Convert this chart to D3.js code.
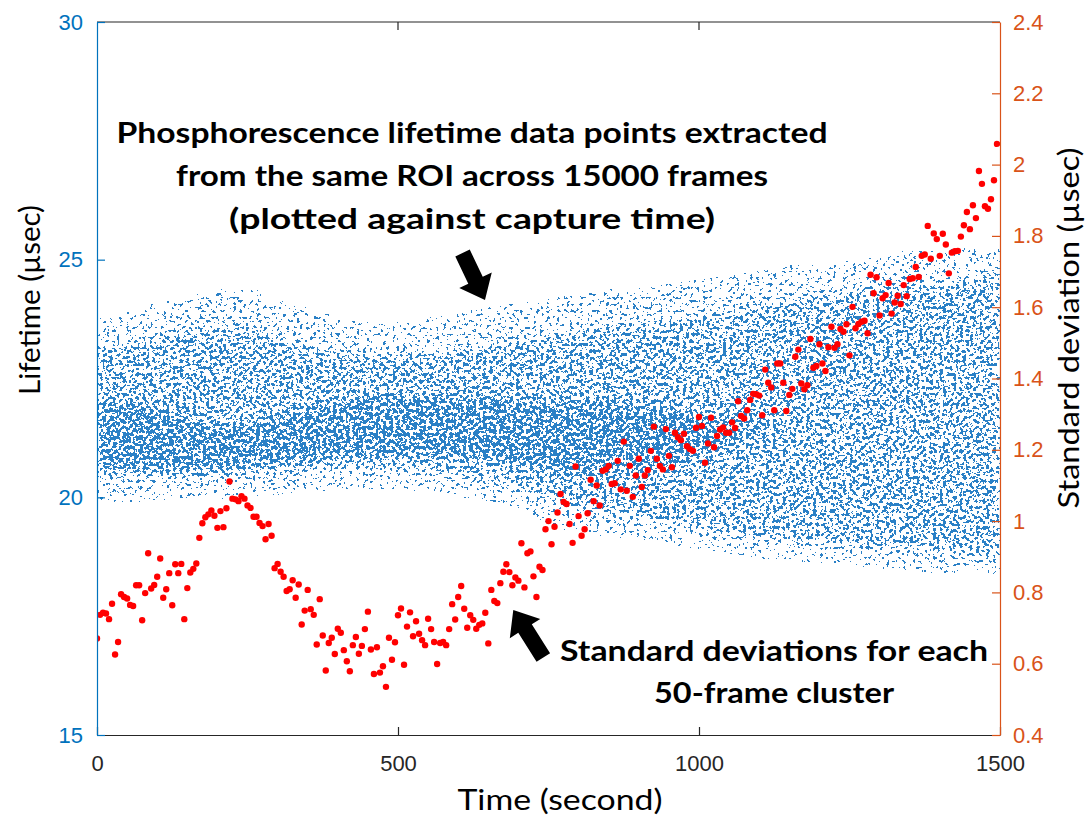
<!DOCTYPE html>
<html><head><meta charset="utf-8">
<script src="https://cdn.jsdelivr.net/npm/d3@7"></script>
<style>body{margin:0;background:#fff}svg{display:block}</style>
</head><body>
<svg id="chart" width="1089" height="819"></svg>
<script>
// ---------- data ----------
const timeTicks = [0, 500, 1000, 1500];
const lifetimeTicks = [15, 20, 25, 30];
const sdTicks = [0.4, 0.6, 0.8, 1.0, 1.2, 1.4, 1.6, 1.8, 2.0, 2.2, 2.4];
const clusterSeconds = 5; // each 50-frame cluster spans 5 s

// standard deviation of each 50-frame cluster (µsec), in cluster order
const sdValues = [
0.671,0.737,0.743,0.741,0.725,0.768,0.626,0.661,0.795,0.787,0.783,0.765,0.762,0.82,0.82,0.722,0.798,0.91,0.811,0.821,
0.844,0.895,0.785,0.809,0.854,0.764,0.879,0.854,0.88,0.725,0.812,0.856,0.866,0.881,0.953,0.994,1.011,1.019,1.030,1.015,
0.981,1.028,0.983,1.036,1.111,1.063,1.061,1.056,1.07,1.063,1.044,1.037,1.012,1.012,0.995,0.986,0.949,0.992,0.959,0.868,
0.88,0.858,0.844,0.804,0.809,0.834,0.785,0.822,0.71,0.749,0.807,0.753,0.737,0.654,0.781,0.679,0.581,0.658,0.673,0.627,
0.698,0.687,0.638,0.607,0.579,0.652,0.675,0.628,0.65,0.697,0.746,0.64,0.571,0.646,0.575,0.593,0.535,0.673,0.611,0.66,
0.736,0.755,0.597,0.704,0.744,0.677,0.719,0.684,0.666,0.652,0.726,0.697,0.661,0.599,0.658,0.661,0.652,0.697,0.767,0.724,
0.787,0.818,0.754,0.701,0.736,0.723,0.698,0.709,0.713,0.743,0.657,0.807,0.776,0.77,0.826,0.858,0.879,0.857,0.82,0.842,
0.833,0.938,0.814,0.91,0.915,0.845,0.787,0.872,0.863,0.977,1.0,0.935,0.984,1.024,1.076,1.054,1.048,0.992,0.939,1.153,
1.014,0.959,0.977,1.022,1.116,1.056,1.1,1.044,1.141,1.145,1.155,1.104,1.106,1.169,1.089,1.223,1.085,1.155,1.068,1.128,
1.175,1.096,1.128,1.143,1.197,1.265,1.175,1.155,1.145,1.258,1.183,1.151,1.248,1.235,1.227,1.245,1.21,1.202,1.197,1.262,
1.292,1.267,1.164,1.218,1.29,1.207,1.239,1.257,1.263,1.248,1.248,1.277,1.261,1.336,1.295,1.288,1.311,1.34,1.357,1.356,
1.352,1.297,1.425,1.388,1.375,1.311,1.442,1.442,1.388,1.309,1.354,1.371,1.461,1.481,1.386,1.37,1.381,1.511,1.43,1.435,
1.496,1.442,1.421,1.488,1.545,1.486,1.496,1.539,1.531,1.552,1.465,1.601,1.541,1.553,1.559,1.562,1.527,1.691,1.639,1.684,
1.577,1.625,1.634,1.668,1.582,1.613,1.632,1.609,1.662,1.631,1.679,1.681,1.713,1.685,1.744,1.748,1.828,1.736,1.807,1.791,
1.744,1.806,1.776,1.695,1.753,1.757,1.758,1.798,1.83,1.867,1.819,1.886,1.85,1.982,1.946,1.883,1.876,1.903,1.956,2.058
];

// lifetime point cloud (15000 frames), summarised as density envelopes (µsec)
const cloudTimes    = [0,50,100,150,200,250,300,350,400,450,500,550,600,650,700,750,800,850,900,950,1000,1050,1100,1150,1200,1250,1300,1350,1400,1450,1500];
const cloudOuterTop = [23.7,23.8,24.0,24.1,24.3,24.3,24.1,23.9,23.7,23.6,23.6,23.7,23.8,23.9,24.0,24.1,24.2,24.3,24.3,24.4,24.5,24.6,24.7,24.8,24.8,24.9,25.0,25.1,25.1,25.2,25.2];
const cloudMidTop   = [23.1,23.2,23.3,23.5,23.6,23.6,23.4,23.2,23.1,23.0,23.0,23.0,23.1,23.2,23.3,23.4,23.5,23.6,23.6,23.7,23.8,23.9,24.0,24.1,24.2,24.3,24.4,24.5,24.5,24.6,24.6];
const cloudCoreTop  = [22.0,22.0,21.9,21.7,21.5,21.5,21.7,21.9,22.0,22.1,22.1,22.1,22.1,22.1,22.0,22.0,22.0,22.0,21.9,21.8,21.7,21.6,21.5,21.4,21.4,21.4,21.4,21.4,21.4,21.4,21.4];
const cloudCoreBot  = [20.6,20.6,20.6,20.6,20.6,20.65,20.7,20.8,20.85,20.9,20.9,20.9,20.85,20.8,20.7,20.6,20.5,20.5,20.6,20.7,20.9,21.1,21.3,21.4,21.4,21.4,21.4,21.4,21.4,21.4,21.4];
const cloudMidBot   = [20.45,20.45,20.45,20.45,20.45,20.5,20.55,20.6,20.65,20.65,20.65,20.6,20.5,20.4,20.2,20.0,19.8,19.7,19.6,19.5,19.4,19.3,19.2,19.15,19.1,19.0,18.95,18.9,18.85,18.85,18.8];
const cloudOuterBot = [20.0,20.0,20.0,20.05,20.05,20.1,20.15,20.2,20.25,20.25,20.25,20.2,20.1,20.0,19.8,19.5,19.35,19.25,19.2,19.1,19.0,18.9,18.8,18.75,18.7,18.65,18.6,18.55,18.5,18.5,18.45];

// annotations (anchored in data coordinates: time, lifetime)
const topNoteLines = ["Phosphorescence lifetime data points extracted", "from the same ROI across 15000 frames", "(plotted against capture time)"];
const bottomNoteLines = ["Standard deviations for each", "50-frame cluster"];

// ---------- layout ----------
const L = 97, R = 1000, T = 22, B = 735;
const BLUE = "#0072BD", ORANGE = "#D95319", GRAY = "#262626";

const svg = d3.select("#chart");
const x = d3.scaleLinear().domain([0, 1500]).range([L, R]);
const yL = d3.scaleLinear().domain([15, 30]).range([B, T]);
const yR = d3.scaleLinear().domain([0.4, 2.4]).range([B, T]);

const defs = svg.append("defs");
defs.append("clipPath").attr("id", "plotClip").append("rect")
  .attr("x", L).attr("y", T).attr("width", R - L).attr("height", B - T);

// speckle texture: density (blurred alpha of the envelope areas) thresholded against noise
const f = defs.append("filter").attr("id", "speckle")
  .attr("filterUnits", "userSpaceOnUse").attr("x", L).attr("y", T).attr("width", R - L).attr("height", B - T)
  .attr("color-interpolation-filters", "sRGB");
f.append("feGaussianBlur").attr("in", "SourceAlpha").attr("stdDeviation", 5).attr("result", "dens");
f.append("feTurbulence").attr("type", "fractalNoise").attr("baseFrequency", 0.3).attr("numOctaves", 2).attr("seed", 11).attr("result", "turb");
f.append("feColorMatrix").attr("in", "turb").attr("type", "matrix")
  .attr("values", "0 0 0 0 0  0 0 0 0 0  0 0 0 0 0  2.6 0 0 0 -0.8").attr("result", "noise");
f.append("feComposite").attr("in", "dens").attr("in2", "noise").attr("operator", "arithmetic")
  .attr("k1", 0).attr("k2", 1).attr("k3", -1).attr("k4", 0.47).attr("result", "diff");
const ct = f.append("feComponentTransfer").attr("in", "diff").attr("result", "mask");
ct.append("feFuncA").attr("type", "discrete").attr("tableValues", "0 1");
f.append("feFlood").attr("flood-color", "#2a80c6").attr("result", "col");
f.append("feComposite").attr("in", "col").attr("in2", "mask").attr("operator", "in");

// ---------- point cloud ----------
const cloud = svg.append("g").attr("clip-path", "url(#plotClip)")
  .append("g").attr("filter", "url(#speckle)");
const idx = d3.range(cloudTimes.length);
function band(top, bot) {
  return d3.area().curve(d3.curveMonotoneX)
    .x(i => x(cloudTimes[i])).y0(i => yL(bot[i])).y1(i => yL(top[i]))(idx);
}
cloud.append("path").attr("d", band(cloudOuterTop, cloudOuterBot)).attr("fill", "#000").attr("fill-opacity", 0.17);
cloud.append("path").attr("d", band(cloudMidTop, cloudMidBot)).attr("fill", "#000").attr("fill-opacity", 0.3);
cloud.append("path").attr("d", band(cloudCoreTop, cloudCoreBot)).attr("fill", "#000").attr("fill-opacity", 0.3);

// ---------- SD points ----------
svg.append("g").attr("clip-path", "url(#plotClip)").selectAll("circle").data(sdValues).join("circle")
  .attr("cx", (d, i) => x(i * clusterSeconds))
  .attr("cy", d => yR(d))
  .attr("r", 3.2)
  .attr("fill", "#ff0000");

// ---------- axes ----------
svg.append("line").attr("x1", L).attr("x2", R).attr("y1", T).attr("y2", T)
  .attr("stroke", GRAY).attr("stroke-width", 1.2);
svg.append("g").selectAll("line").data(timeTicks.slice(1, -1)).join("line")
  .attr("x1", d => x(d)).attr("x2", d => x(d)).attr("y1", T).attr("y2", T + 8)
  .attr("stroke", GRAY).attr("stroke-width", 1.2);

function styleAxis(g, color, labelColor) {
  g.select(".domain").attr("stroke", color).attr("stroke-width", 1.2);
  g.selectAll(".tick line").attr("stroke", color).attr("stroke-width", 1.2);
  g.selectAll(".tick text").attr("fill", labelColor)
    .style("font-family", "'Liberation Sans', Arial, sans-serif").style("font-size", "22px");
}
const xAxis = svg.append("g").attr("transform", `translate(0,${B})`)
  .call(d3.axisBottom(x).tickValues(timeTicks).tickSizeInner(-8).tickSizeOuter(0).tickPadding(20).tickFormat(d3.format("d")));
styleAxis(xAxis, GRAY, GRAY);

const yAxisL = svg.append("g").attr("transform", `translate(${L},0)`)
  .call(d3.axisLeft(yL).tickValues(lifetimeTicks).tickSizeInner(-8).tickSizeOuter(0).tickPadding(14).tickFormat(d3.format("d")));
styleAxis(yAxisL, BLUE, BLUE);

const yAxisR = svg.append("g").attr("transform", `translate(${R},0)`)
  .call(d3.axisRight(yR).tickValues(sdTicks).tickSizeInner(-8).tickSizeOuter(0).tickPadding(13).tickFormat(d => String(+d.toFixed(1))));
styleAxis(yAxisR, ORANGE, ORANGE);

// axis titles
const titleFont = "Lato, 'Open Sans', sans-serif";
svg.append("text").attr("x", 560).attr("y", 810).attr("text-anchor", "middle")
  .attr("textLength", 205).attr("lengthAdjust", "spacingAndGlyphs")
  .style("font-family", titleFont).style("font-size", "28px").attr("fill", "#000").text("Time (second)");
svg.append("text").attr("transform", "translate(40,300) rotate(-90)").attr("text-anchor", "middle")
  .attr("textLength", 190).attr("lengthAdjust", "spacingAndGlyphs")
  .style("font-family", titleFont).style("font-size", "28px").attr("fill", "#000").text("Lifetime (µsec)");
svg.append("text").attr("transform", "translate(1079,328) rotate(-90)").attr("text-anchor", "middle")
  .attr("textLength", 361).attr("lengthAdjust", "spacingAndGlyphs")
  .style("font-family", titleFont).style("font-size", "28px").attr("fill", "#000").text("Standard deviation (µsec)");

// ---------- annotations ----------
const noteFont = "Lato, 'Open Sans', sans-serif";
const topLens = [711, 592, 486];
const topBase = [27.455, 26.55, 25.646];
svg.append("g").selectAll("text").data(topNoteLines).join("text")
  .attr("x", x(623)).attr("y", (d, i) => yL(topBase[i])).attr("text-anchor", "middle")
  .attr("textLength", (d, i) => topLens[i]).attr("lengthAdjust", "spacingAndGlyphs")
  .style("font-family", noteFont).style("font-weight", 700).style("font-size", "29px").attr("fill", "#000")
  .text(d => d);
const botLens = [428, 240];
const botBase = [16.557, 15.673];
svg.append("g").selectAll("text").data(bottomNoteLines).join("text")
  .attr("x", x(1124.6)).attr("y", (d, i) => yL(botBase[i])).attr("text-anchor", "middle")
  .attr("textLength", (d, i) => botLens[i]).attr("lengthAdjust", "spacingAndGlyphs")
  .style("font-family", noteFont).style("font-weight", 700).style("font-size", "29px").attr("fill", "#000")
  .text(d => d);

function blockArrow(tail, tip, shaftW, headL, headW) {
  const x0 = x(tail[0]), y0 = yL(tail[1]), x1 = x(tip[0]), y1 = yL(tip[1]);
  const dx = x1 - x0, dy = y1 - y0, len = Math.hypot(dx, dy);
  const ux = dx / len, uy = dy / len, nx = -uy, ny = ux;
  const bx = x1 - ux * headL, by = y1 - uy * headL;
  const p = [
    [x0 + nx * shaftW / 2, y0 + ny * shaftW / 2],
    [bx + nx * shaftW / 2, by + ny * shaftW / 2],
    [bx + nx * headW / 2, by + ny * headW / 2],
    [x1, y1],
    [bx - nx * headW / 2, by - ny * headW / 2],
    [bx - nx * shaftW / 2, by - ny * shaftW / 2],
    [x0 - nx * shaftW / 2, y0 - ny * shaftW / 2]
  ];
  svg.append("path").attr("d", d3.line()(p) + "Z").attr("fill", "#000");
}
blockArrow([607.2, 25.14], [644.5, 24.15], 16, 22, 36);
blockArrow([741.4, 16.63], [691.5, 17.63], 16, 22, 36);
</script>
</body></html>
